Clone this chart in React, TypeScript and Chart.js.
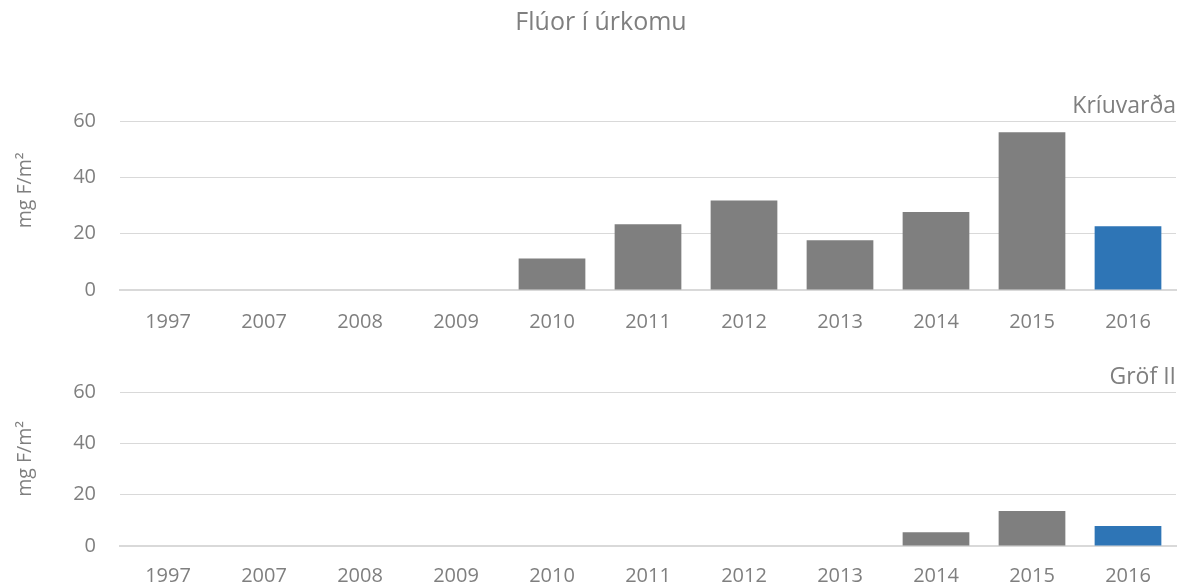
import React, { useEffect, useRef } from 'react';
import { Chart, registerables } from 'chart.js';

Chart.register(...registerables);

const years = ['1997', '2007', '2008', '2009', '2010', '2011', '2012', '2013', '2014', '2015', '2016'];
const kriuvardaValues = [null, null, null, null, 11.2, 23.3, 31.8, 17.7, 27.7, 56.0, 22.6];
const grofValues = [null, null, null, null, null, null, null, null, 5.4, 13.6, 7.8];
const yTicks = [0, 20, 40, 60];
const chartTitle = 'Flúor í úrkomu';
const panelNames = ['Kríuvarða', 'Gröf II'];
const yAxisTitle = 'mg F/m²';
const highlightYear = '2016';

const FONT = "'Open Sans', sans-serif";
const GRAY_BAR = '#7f7f7f';
const BLUE_BAR = '#2e75b6';
const TEXT = '#7f7f7f';
const GRID = '#d9d9d9';

function makeConfig(values: (number | null)[], panelName: string, withTitle: boolean): any {
  // leading spaces nudge the centred axis title slightly upward, as in the original layout
  const yTitleText = (withTitle ? '      ' : '    ') + yAxisTitle;
  return {
    type: 'bar',
    data: {
      labels: years,
      datasets: [
        {
          data: values,
          backgroundColor: years.map((y) => (y === highlightYear ? BLUE_BAR : GRAY_BAR)),
          borderWidth: 0,
          barPercentage: 0.695,
          categoryPercentage: 1.0,
        },
      ],
    },
    options: {
      animation: false,
      responsive: false,
      devicePixelRatio: 1,
      layout: { padding: { left: 26, right: 8, top: 0, bottom: 0 } },
      plugins: {
        legend: { display: false },
        tooltip: { enabled: false },
        title: {
          display: withTitle,
          text: chartTitle,
          color: TEXT,
          font: { family: FONT, size: 25, weight: 'normal' },
          padding: { top: 8, bottom: 30 },
        },
        subtitle: {
          display: true,
          text: panelName,
          align: 'end',
          color: TEXT,
          font: { family: FONT, size: 23, weight: 'normal' },
          padding: withTitle ? { top: 24.4, bottom: 1 } : { top: 25.4, bottom: 1 },
        },
      },
      scales: {
        x: {
          grid: { display: false, drawTicks: false },
          border: { display: true, color: GRID, width: 2 },
          ticks: {
            color: TEXT,
            font: { family: FONT, size: 20 },
            padding: withTitle ? 20 : 18,
            maxRotation: 0,
            autoSkip: false,
          },
        },
        y: {
          min: yTicks[0],
          max: yTicks[yTicks.length - 1],
          afterBuildTicks: (scale: any) => {
            scale.ticks = yTicks.map((v) => ({ value: v }));
          },
          afterFit: (scale: any) => {
            scale.width = 94;
          },
          grid: { color: GRID, lineWidth: 1, drawTicks: false },
          border: { display: false },
          ticks: {
            color: TEXT,
            font: { family: FONT, size: 20 },
            padding: 24,
          },
          title: {
            display: true,
            text: yTitleText,
            color: TEXT,
            font: { family: FONT, size: 19.5 },
            padding: { top: -12.7, bottom: 0 },
          },
        },
      },
    },
  };
}

function BarPanel(props: { values: (number | null)[]; name: string; withTitle: boolean; top: number; height: number }) {
  const ref = useRef<HTMLCanvasElement | null>(null);
  useEffect(() => {
    if (!ref.current) return;
    const chart = new Chart(ref.current, makeConfig(props.values, props.name, props.withTitle));
    return () => chart.destroy();
  }, []);
  return (
    <canvas
      ref={ref}
      width={1184}
      height={props.height}
      style={{ position: 'absolute', left: 0, top: props.top, width: 1184, height: props.height, display: 'block' }}
    />
  );
}

export default function App() {
  return (
    <div style={{ position: 'absolute', left: 0, top: 0, width: 1184, height: 587, background: '#ffffff', overflow: 'hidden' }}>
      <BarPanel values={kriuvardaValues} name={panelNames[0]} withTitle={true} top={0} height={354} />
      <BarPanel values={grofValues} name={panelNames[1]} withTitle={false} top={338} height={268} />
    </div>
  );
}
